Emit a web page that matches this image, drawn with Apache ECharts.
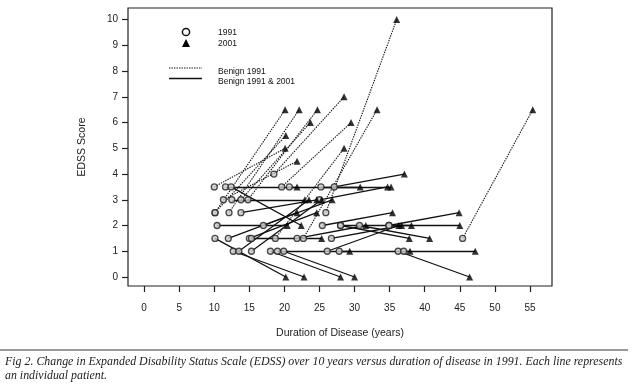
<!DOCTYPE html>
<html>
<head>
<meta charset="utf-8">
<script src="https://cdn.jsdelivr.net/npm/echarts@6/dist/echarts.min.js"></script>
<style>
html,body{margin:0;padding:0;background:#fff;}
#chart{width:640px;height:386px;}
</style>
</head>
<body>
<div id="chart"></div>
<script>
// Duration of disease in 1991 and EDSS score in 1991 (circles)
var dur1991 = [10.0,10.1,10.1,10.4,10.1,11.6,11.3,12.1,12.4,12.0,12.7,12.5,13.5,13.8,13.8,14.8,15.0,15.3,15.3,17.0,18.0,18.5,18.7,19.0,19.6,19.9,20.7,21.8,22.7,25.0,25.2,25.4,25.9,26.1,26.7,27.1,27.8,28.0,28.0,30.7,34.9,34.9,36.2,37.0,45.4];
var edss1991 = [3.5,2.5,2.5,2.0,1.5,3.5,3.0,2.5,3.5,1.5,1.0,3.0,1.0,3.0,2.5,3.0,1.5,1.5,1.0,2.0,1.0,4.0,1.5,1.0,3.5,1.0,3.5,1.5,1.5,3.0,3.5,2.0,2.5,1.0,1.5,3.5,1.0,2.0,2.0,2.0,2.0,2.0,1.0,1.0,1.5];
// Duration of disease at 2001 follow-up and EDSS score in 2001 (triangles)
var dur2001 = [20.1,20.1,20.2,20.4,20.2,21.8,21.8,22.1,22.4,21.8,22.8,22.9,23.5,23.7,24.6,24.7,24.6,25.3,25.3,26.8,28.0,28.5,28.5,29.3,29.5,30.0,30.8,31.6,33.2,34.7,35.2,35.4,36.0,36.3,36.7,37.1,37.9,38.1,37.8,40.7,45.0,44.9,46.4,47.2,55.4];
var edss2001 = [5.0,6.5,5.5,2.0,0.0,3.5,4.5,6.5,2.0,2.5,0.0,3.0,3.0,6.0,3.0,6.5,2.5,1.5,3.0,3.0,0.0,7.0,5.0,1.0,6.0,0.0,3.5,2.0,6.5,3.5,3.5,2.5,10.0,2.0,2.0,4.0,1.0,2.0,1.5,1.5,2.0,2.5,0.0,1.0,6.5];
// 1 = benign in 1991 and 2001 (solid), 0 = benign in 1991 only (dotted)
var benignBoth = [0,0,0,1,1,1,0,0,1,1,1,1,1,0,1,0,1,1,1,1,1,0,0,1,0,1,1,1,0,1,1,1,0,1,1,1,1,1,1,1,1,1,1,1,0];

var xTicks = [0,5,10,15,20,25,30,35,40,45,50,55];
var yTicks = [0,1,2,3,4,5,6,7,8,9,10];

var pts1991 = dur1991.map(function(d,i){return [d, edss1991[i]];});
var pts2001 = dur2001.map(function(d,i){return [d, edss2001[i]];});
var solidLines = [], dottedLines = [];
for (var i = 0; i < dur1991.length; i++) {
  var seg = {coords: [[dur1991[i], edss1991[i]], [dur2001[i], edss2001[i]]]};
  if (benignBoth[i]) solidLines.push(seg); else dottedLines.push(seg);
}

var chart = echarts.init(document.getElementById('chart'), null, {renderer:'canvas'});
var FONT = '"Liberation Sans", Arial, sans-serif';
chart.setOption({
  animation: false,
  backgroundColor: '#fff',
  grid: {left:128, right:88, top:8, bottom:100, show:true, borderColor:'#222', borderWidth:1.2},
  xAxis: {
    type:'value', min:-2.3, max:58.14,
    name:'Duration of Disease (years)', nameLocation:'middle', nameGap:42,
    nameTextStyle:{fontFamily:FONT, fontSize:10.5, color:'#222'},
    axisLine:{show:false, onZero:false},
    splitLine:{show:false},
    axisTick:{show:true, inside:false, length:6, customValues:xTicks, lineStyle:{color:'#222', width:1.2}},
    axisLabel:{customValues:xTicks, margin:17, fontFamily:FONT, fontSize:10, color:'#222'}
  },
  yAxis: {
    type:'value', min:-0.35, max:10.45,
    name:'EDSS Score', nameLocation:'middle', nameGap:40, nameRotate:90,
    nameTextStyle:{fontFamily:FONT, fontSize:10.5, color:'#222'},
    axisLine:{show:false, onZero:false},
    splitLine:{show:false},
    axisTick:{show:true, length:6, customValues:yTicks, lineStyle:{color:'#222', width:1.2}},
    axisLabel:{customValues:yTicks, margin:10, padding:[7,0,0,0], fontFamily:FONT, fontSize:10, color:'#222'}
  },
  series: [
    {type:'lines', coordinateSystem:'cartesian2d', data:dottedLines, z:2,
     lineStyle:{color:'#111', width:1.1, type:[1.4,1.1], opacity:1}},
    {type:'lines', coordinateSystem:'cartesian2d', data:solidLines, z:2,
     lineStyle:{color:'#111', width:1.3, type:'solid', opacity:1}},
    {type:'scatter', data:pts1991, symbol:'circle', symbolSize:6, z:3,
     itemStyle:{color:'#ccc', borderColor:'#222', borderWidth:1.3}},
    {type:'scatter', data:pts2001, symbol:'triangle', symbolSize:7, z:4,
     itemStyle:{color:'#000'}}
  ],
  graphic: [
    {type:'circle', shape:{cx:186, cy:32, r:3.6}, style:{fill:'#fff', stroke:'#111', lineWidth:1.5}},
    {type:'polygon', shape:{points:[[186,39],[182,47],[190,47]]}, style:{fill:'#000'}},
    {type:'text', left:218, top:28, style:{text:'1991', font:'8.5px '+FONT, fill:'#111'}},
    {type:'text', left:218, top:39, style:{text:'2001', font:'8.5px '+FONT, fill:'#111'}},
    {type:'line', shape:{x1:169, y1:68, x2:202, y2:68}, style:{stroke:'#111', lineWidth:1.1, lineDash:[1.4,1.1]}},
    {type:'line', shape:{x1:169, y1:78.5, x2:202, y2:78.5}, style:{stroke:'#111', lineWidth:1.3}},
    {type:'text', left:218, top:67, style:{text:'Benign 1991', font:'8.5px '+FONT, fill:'#111'}},
    {type:'text', left:218, top:77, style:{text:'Benign 1991 & 2001', font:'8.5px '+FONT, fill:'#111'}},
    {type:'line', shape:{x1:0, y1:350, x2:628, y2:350}, style:{stroke:'#777', lineWidth:1.6}},
    {type:'text', left:5, top:356, style:{text:'Fig 2. Change in Expanded Disability Status Scale (EDSS) over 10 years versus duration of disease in 1991. Each line represents', font:'italic 11.9px "Liberation Serif", "DejaVu Serif", serif', fill:'#222'}},
    {type:'text', left:5, top:370, style:{text:'an individual patient.', font:'italic 11.9px "Liberation Serif", "DejaVu Serif", serif', fill:'#222'}}
  ]
});
</script>
</body>
</html>
